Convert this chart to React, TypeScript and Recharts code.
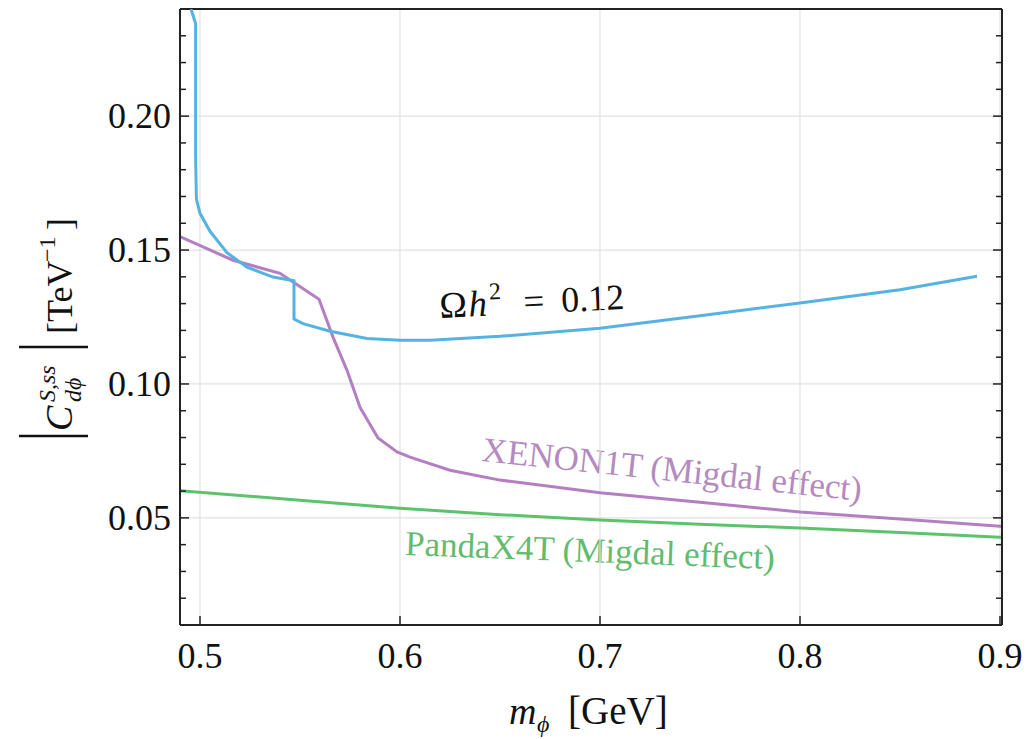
import { Customized, Line, LineChart, ReferenceLine, XAxis, YAxis } from "recharts";

// Relic-density contour and Migdal-effect limits, m_phi [GeV] vs |C| [TeV^-1].

const X_DOMAIN: [number, number] = [0.49, 0.901];
const Y_DOMAIN: [number, number] = [0.01, 0.24];

const xTicks = [0.5, 0.6, 0.7, 0.8, 0.9];
const yMajorTicks = [0.05, 0.1, 0.15, 0.2];
const yAllTicks = [
  0.01, 0.02, 0.03, 0.04, 0.05, 0.06, 0.07, 0.08, 0.09, 0.1, 0.11, 0.12,
  0.13, 0.14, 0.15, 0.16, 0.17, 0.18, 0.19, 0.2, 0.21, 0.22, 0.23, 0.24,
];

// Omega h^2 = 0.12 (blue)
const relicMass = [
  0.4955, 0.4978, 0.4978, 0.4982, 0.5, 0.505, 0.5135, 0.5235, 0.5365, 0.547,
  0.547, 0.5515, 0.565, 0.5835, 0.6, 0.615, 0.65, 0.7, 0.75, 0.8, 0.85, 0.8885,
];
const relicCoupling = [
  0.24, 0.2346, 0.185, 0.169, 0.1637, 0.157, 0.149, 0.1436, 0.1399, 0.1385,
  0.1242, 0.1225, 0.1197, 0.117, 0.1163, 0.1163, 0.1178, 0.1208, 0.1255,
  0.1302, 0.1352, 0.1402,
];

// XENON1T Migdal (purple)
const xenonMass = [
  0.49, 0.5165, 0.54, 0.5595, 0.5665, 0.5735, 0.58, 0.589, 0.5985, 0.605,
  0.625, 0.65, 0.7, 0.75, 0.8, 0.85, 0.9, 0.901,
];
const xenonCoupling = [
  0.155, 0.1462, 0.1413, 0.1316, 0.1175, 0.1051, 0.0913, 0.0798, 0.0746,
  0.0727, 0.0678, 0.0641, 0.0594, 0.0558, 0.0522, 0.0496, 0.0469, 0.0468,
];

// PandaX-4T Migdal (green)
const pandaMass = [0.49, 0.55, 0.6, 0.65, 0.7, 0.75, 0.8, 0.85, 0.9, 0.901];
const pandaCoupling = [
  0.0601, 0.0566, 0.0536, 0.0512, 0.0492, 0.0476, 0.0462, 0.0445, 0.0428,
  0.0428,
];

const toRows = (xs: number[], ys: number[]) =>
  xs.map((m, i) => ({ m, c: ys[i] }));

const BLUE = "#55b3e2";
const PURPLE = "#b47fc2";
const GREEN = "#5dc26c";
const INK = "#222";
const FONT = "Liberation Serif, Times New Roman, serif";
const TICK_MARGIN = 8;

const isMajor = (v: number) => yMajorTicks.some((t) => Math.abs(t - v) < 1e-6);

function LeftTick(props: any) {
  const { x, y, payload } = props;
  const axisX = x + TICK_MARGIN;
  const major = isMajor(payload.value);
  return (
    <g>
      <line x1={axisX} x2={axisX + (major ? 9 : 6)} y1={y} y2={y} stroke={INK} strokeWidth={1.5} />
      {major && (
        <text x={x - 1} y={y} dy={12} textAnchor="end" fontFamily={FONT} fontSize={36} fill="#111">
          {payload.value.toFixed(2)}
        </text>
      )}
    </g>
  );
}

function RightTick(props: any) {
  const { x, y, payload } = props;
  const major = isMajor(payload.value);
  return <line x1={x} x2={x - (major ? 9 : 6)} y1={y} y2={y} stroke={INK} strokeWidth={1.5} />;
}

function BottomTick(props: any) {
  const { x, y, payload } = props;
  const axisY = y - TICK_MARGIN;
  return (
    <g>
      <line x1={x} x2={x} y1={axisY} y2={axisY - 9} stroke={INK} strokeWidth={1.5} />
      <text x={x} y={axisY + 43} textAnchor="middle" fontFamily={FONT} fontSize={36} fill="#111">
        {payload.value.toFixed(1)}
      </text>
    </g>
  );
}

function Annotations() {
  return (
    <g fontFamily={FONT}>
      {/* y axis label */}
      <g transform="translate(72, 322) rotate(-90)">
        <line x1={-114} x2={-114} y1={-53} y2={16} stroke="#111" strokeWidth={2.5} />
        <text x={-109} y={0} fontSize={38} fontStyle="italic" fill="#111">C</text>
        <text x={-80} y={-17} fontSize={24} fontStyle="italic" fill="#111">S,ss</text>
        <text x={-80} y={9} fontSize={24} fontStyle="italic" fill="#111">dϕ</text>
        <line x1={-25} x2={-25} y1={-53} y2={16} stroke="#111" strokeWidth={2.5} />
        <text x={-12} y={0} fontSize={36} fill="#111">[TeV</text>
        <text x={60} y={-17} fontSize={24} fill="#111">−1</text>
        <text x={92} y={0} fontSize={36} fill="#111">]</text>
      </g>
      {/* x axis label */}
      <text x={509} y={724} fontSize={38} fontStyle="italic" fill="#111">m</text>
      <text x={537} y={732} fontSize={24} fontStyle="italic" fill="#111">ϕ</text>
      <text x={568} y={724} fontSize={39} fill="#111">[GeV]</text>
      {/* curve labels */}
      <g transform="translate(440, 318) rotate(-2.8)">
        <text x={0} y={0} fontSize={37} fill="#111">Ω</text>
        <text x={29} y={0} fontSize={37} fontStyle="italic" fill="#111">h</text>
        <text x={50} y={-16} fontSize={24} fill="#111">2</text>
        <text x={84} y={0} fontSize={37} fill="#111">=</text>
        <text x={122} y={0} fontSize={36} fill="#111">0.12</text>
      </g>
      <text
        x={672}
        y={481}
        fontSize={35}
        fill="#b48ac0"
        textAnchor="middle"
        transform="rotate(6 672 470)"
      >
        XENON1T (Migdal effect)
      </text>
      <text
        x={590}
        y={562}
        fontSize={35}
        fill="#62bb6e"
        textAnchor="middle"
        transform="rotate(2.2 590 550)"
      >
        PandaX4T (Migdal effect)
      </text>
    </g>
  );
}

export default function App() {
  return (
    <div style={{ position: "absolute", left: 0, top: 0, background: "#fff" }}>
      <LineChart width={1033} height={739} margin={{ top: 9, right: 0, bottom: 0, left: 0 }}>
        <XAxis
          dataKey="m"
          type="number"
          domain={X_DOMAIN}
          ticks={xTicks}
          allowDataOverflow
          height={114}
          tickSize={0}
          tickMargin={TICK_MARGIN}
          tick={<BottomTick />}
          axisLine={{ stroke: INK, strokeWidth: 2 }}
          interval={0}
        />
        <YAxis
          type="number"
          domain={Y_DOMAIN}
          ticks={yAllTicks}
          allowDataOverflow
          width={180}
          tickSize={0}
          tickMargin={TICK_MARGIN}
          tick={<LeftTick />}
          axisLine={{ stroke: INK, strokeWidth: 2 }}
          interval={0}
        />
        <YAxis
          yAxisId="right"
          orientation="right"
          type="number"
          domain={Y_DOMAIN}
          ticks={yAllTicks}
          allowDataOverflow
          width={31}
          tickSize={0}
          tickMargin={0}
          tick={<RightTick />}
          axisLine={{ stroke: INK, strokeWidth: 2 }}
          interval={0}
        />
        {xTicks.map((t) => (
          <ReferenceLine key={`vx${t}`} x={t} stroke="#e2e2e2" strokeWidth={1.2} />
        ))}
        {yMajorTicks.map((t) => (
          <ReferenceLine key={`hy${t}`} y={t} stroke="#e2e2e2" strokeWidth={1.2} />
        ))}
        <ReferenceLine y={Y_DOMAIN[1]} stroke={INK} strokeWidth={2} />
        <Line
          data={toRows(pandaMass, pandaCoupling)}
          dataKey="c"
          type="linear"
          stroke={GREEN}
          strokeWidth={3}
          dot={false}
          isAnimationActive={false}
        />
        <Line
          data={toRows(xenonMass, xenonCoupling)}
          dataKey="c"
          type="linear"
          stroke={PURPLE}
          strokeWidth={3}
          dot={false}
          isAnimationActive={false}
        />
        <Line
          data={toRows(relicMass, relicCoupling)}
          dataKey="c"
          type="linear"
          stroke={BLUE}
          strokeWidth={3}
          dot={false}
          isAnimationActive={false}
        />
        <Customized component={Annotations} />
      </LineChart>
    </div>
  );
}
